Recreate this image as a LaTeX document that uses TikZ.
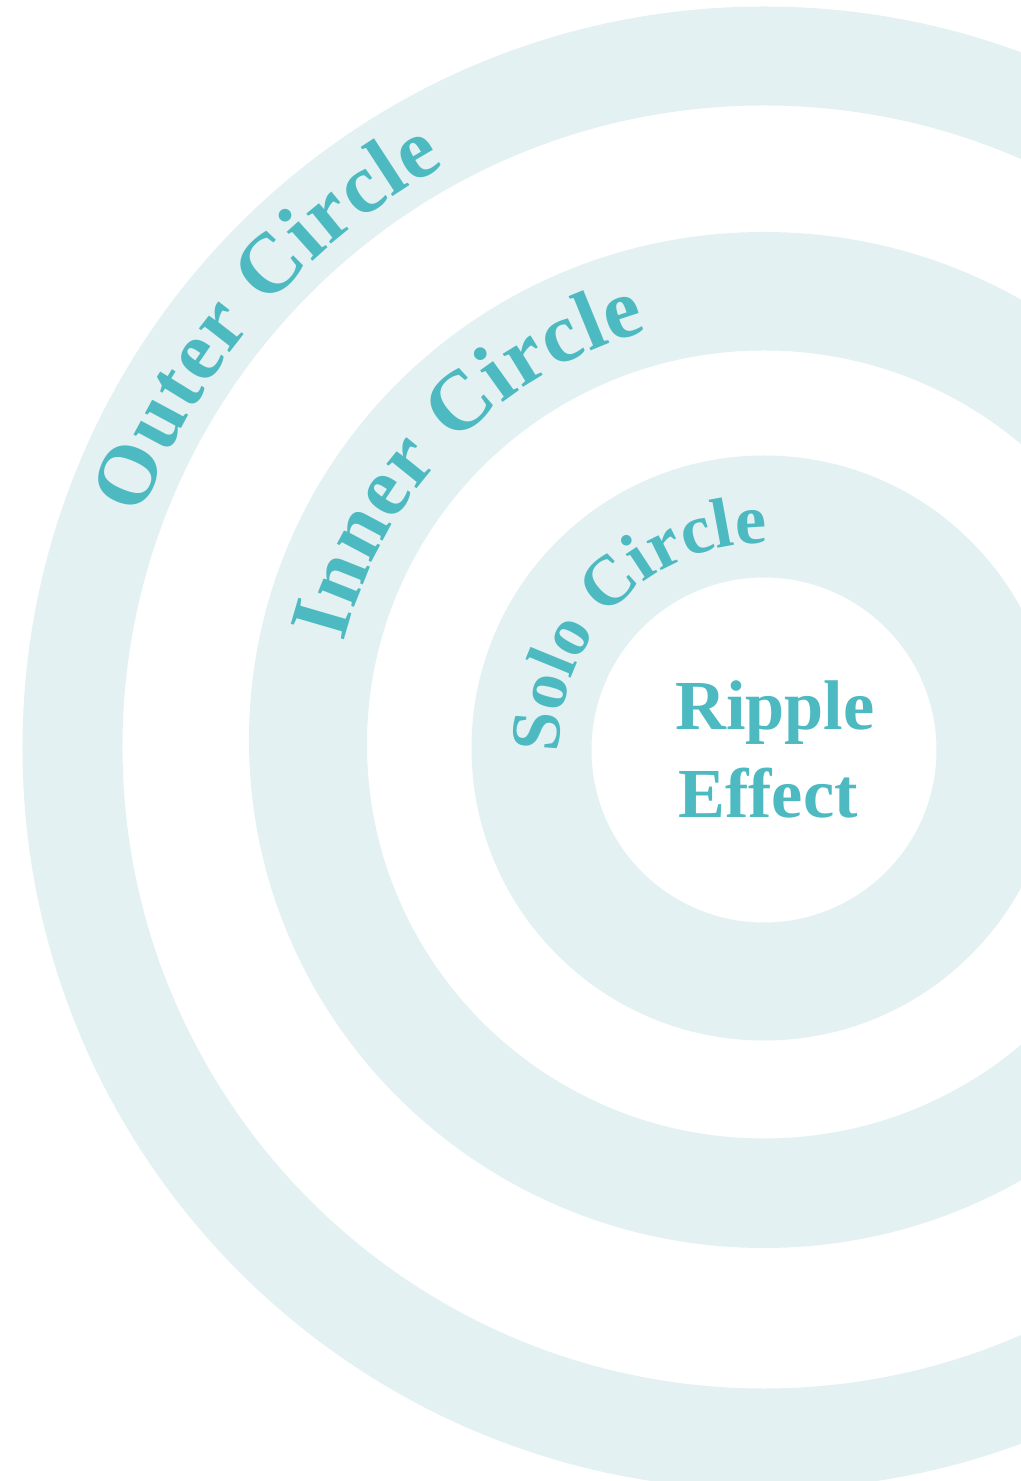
\documentclass[tikz,border=0pt]{standalone}
\usepackage{fontspec}
\setmainfont{Liberation Serif}
\usepackage{xcolor}
\usetikzlibrary{decorations.text}

\definecolor{ringfill}{RGB}{227,241,242}
\definecolor{ripplecol}{RGB}{76,186,192}
\newcommand{\ringfont}{\bfseries\fontsize{48pt}{57pt}\selectfont}
\newcommand{\solofont}{\bfseries\fontsize{40pt}{48pt}\selectfont}
\newcommand{\ripplefont}{\bfseries\fontsize{40pt}{48pt}\selectfont}

\tikzset{
  ring/.style={fill=ringfill, even odd rule},
  arctext/.style={decorate, decoration={text along path, text={#1}, text align=fit to path, text color=ripplecol}},
  centertext/.style={text=ripplecol, font=\ripplefont, inner sep=0pt, anchor=base}
}

\begin{document}
\begin{tikzpicture}
\useasboundingbox (-15.28,-14.66) rectangle (5.14,14.96);
\clip (-15.28,-14.66) rectangle (5.14,14.96);

% rings, outside in
\fill[ring] (0,0) circle (14.83) (0,0.02) circle (12.83);
\fill[ring] (0,0.16) ellipse [x radius=10.30, y radius=10.16] (0,0.07) ellipse [x radius=7.94, y radius=7.88];
\fill[ring] (0,0) circle (5.85) (0,-0.04) circle (3.45);

% labels along the rings
\path[arctext={|\ringfont|Outer Circle}] (159.6:13.28) arc[start angle=159.6, end angle=118.7, radius=13.28];
\path[arctext={|\ringfont|Inner Circle}] (165.9:8.66) arc[start angle=165.9, end angle=105.6, radius=8.66];
\path[arctext={|\solofont|Solo Circle}] (181.3:4.1) arc[start angle=181.3, end angle=91.5, radius=4.1];

% centre
\node[centertext] (ripple) at (0.22,0.36) {Ripple};
\node[centertext] (effect) at (0.08,-1.38) {Effect};
\end{tikzpicture}
\end{document}
